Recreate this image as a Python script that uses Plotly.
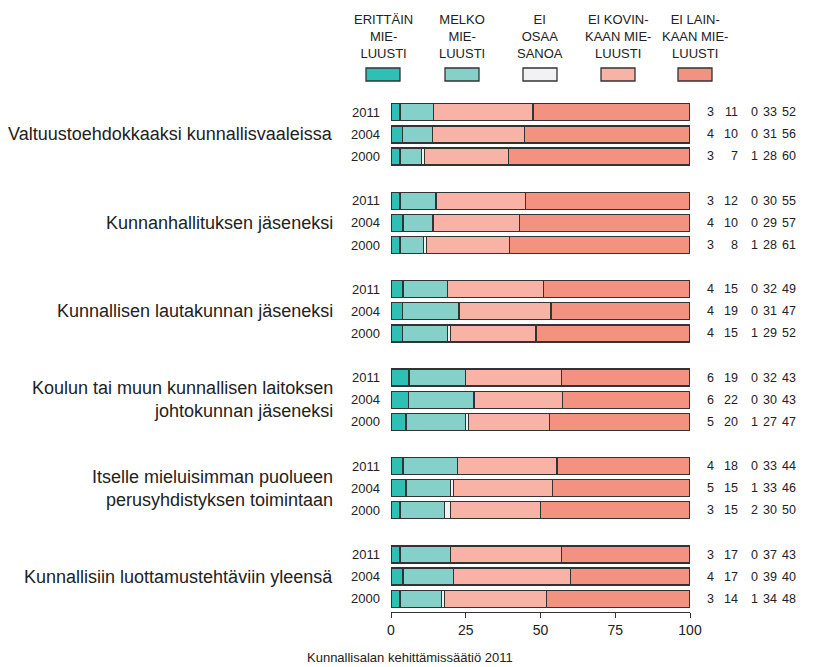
import plotly.graph_objects as go

groups = [
    "Valtuustoehdokkaaksi kunnallisvaaleissa",
    "Kunnanhallituksen jäseneksi",
    "Kunnallisen lautakunnan jäseneksi",
    "Koulun tai muun kunnallisen laitoksen<br>johtokunnan jäseneksi",
    "Itselle mieluisimman puolueen<br>perusyhdistyksen toimintaan",
    "Kunnallisiin luottamustehtäviin yleensä",
]
years = ["2011", "2004", "2000"]
categories = ["ERITTÄIN<br>MIE-<br>LUUSTI", "MELKO<br>MIE-<br>LUUSTI", "EI<br>OSAA<br>SANOA",
              "EI KOVIN-<br>KAAN MIE-<br>LUUSTI", "EI LAIN-<br>KAAN MIE-<br>LUUSTI"]
colors = ["#2ebfb5", "#86d0ca", "#f2f2f4", "#f9b3a6", "#f49282"]

# rows: group by group, years 2011, 2004, 2000
erittain = [3, 4, 3, 3, 4, 3, 4, 4, 4, 6, 6, 5, 4, 5, 3, 3, 4, 3]
melko =    [11, 10, 7, 12, 10, 8, 15, 19, 15, 19, 22, 20, 18, 15, 15, 17, 17, 14]
eos =      [0, 0, 1, 0, 0, 1, 0, 0, 1, 0, 0, 1, 0, 1, 2, 0, 0, 1]
eikovin =  [33, 31, 28, 30, 29, 28, 32, 31, 29, 32, 30, 27, 33, 33, 30, 37, 39, 34]
eilain =   [52, 56, 60, 55, 57, 61, 49, 47, 52, 43, 43, 47, 44, 46, 50, 43, 40, 48]
series = [erittain, melko, eos, eikovin, eilain]

rows = []
labels = []
for g in range(len(groups)):
    for k in range(len(years)):
        rows.append(g * 4 + k)
        labels.append(years[k])

totals = [sum(s[i] for s in series) for i in range(len(rows))]

FONT = "Liberation Sans, Arial, sans-serif"
TXT = "#222222"
L, R, T, B = 391, 128, 99, 55
PW = 818 - L - R
PH = 667 - T - B


def px_x(px):
    return (px - L) / PW


def px_y(py):
    return (667 - B - py) / PH


fig = go.Figure()
for name, vals, col in zip(categories, series, colors):
    fig.add_trace(go.Bar(
        y=rows, x=[v * 100.0 / t for v, t in zip(vals, totals)], orientation="h",
        name=name, marker=dict(color=col, line=dict(color="#333333", width=1.3)),
        width=0.77, showlegend=False, hoverinfo="skip",
    ))

ann = []
# group labels
for g, name in enumerate(groups):
    ann.append(dict(x=px_x(335), y=g * 4 + 1, xref="paper", yref="y", text=name, showarrow=False,
                    xanchor="right", yanchor="middle", align="right",
                    font=dict(size=18, color=TXT, family=FONT)))
# value columns
col_px = [716, 740, 760, 779, 798]
for i, r in enumerate(rows):
    for j, s in enumerate(series):
        ann.append(dict(x=px_x(col_px[j]), y=r, xref="paper", yref="y", text=str(s[i]),
                        showarrow=False, xanchor="right", yanchor="middle",
                        font=dict(size=12.5, color=TXT, family=FONT)))

# legend
leg_cx = [383, 462, 540, 618, 695]
shapes = []
for cx, name, col in zip(leg_cx, categories, colors):
    ann.append(dict(x=px_x(cx), y=px_y(10), xref="paper", yref="paper", text=name,
                    showarrow=False, xanchor="center", yanchor="top", align="center",
                    font=dict(size=13, color=TXT, family=FONT)))
    shapes.append(dict(type="rect", xref="paper", yref="paper",
                       x0=px_x(cx - 17), x1=px_x(cx + 17),
                       y0=px_y(81), y1=px_y(68),
                       fillcolor=col, line=dict(color="#333333", width=1.3)))

ann.append(dict(x=px_x(410), y=px_y(657), xref="paper", yref="paper",
                text="Kunnallisalan kehittämissäätiö 2011", showarrow=False,
                xanchor="center", yanchor="middle",
                font=dict(size=13, color=TXT, family=FONT)))

fig.update_layout(
    barmode="stack", width=818, height=667,
    margin=dict(l=L, r=R, t=T, b=B),
    paper_bgcolor="white", plot_bgcolor="white",
    font=dict(family=FONT, color=TXT, size=13),
    annotations=ann, shapes=shapes,
    xaxis=dict(range=[0, 100], tickvals=[0, 25, 50, 75, 100], showgrid=False, zeroline=False,
               showline=True, linecolor="#333333", linewidth=1, ticks="outside", ticklen=5,
               tickcolor="#333333", tickfont=dict(size=14, family=FONT, color=TXT)),
    yaxis=dict(range=[22.6, -0.6], tickvals=rows, ticktext=labels, showgrid=False,
               zeroline=False, showline=False, ticks="", ticklabelstandoff=10,
               tickfont=dict(size=13, family=FONT, color=TXT)),
)
fig.write_html("out.html", config={"displayModeBar": False},
               post_script="document.body.style.margin='0';")
